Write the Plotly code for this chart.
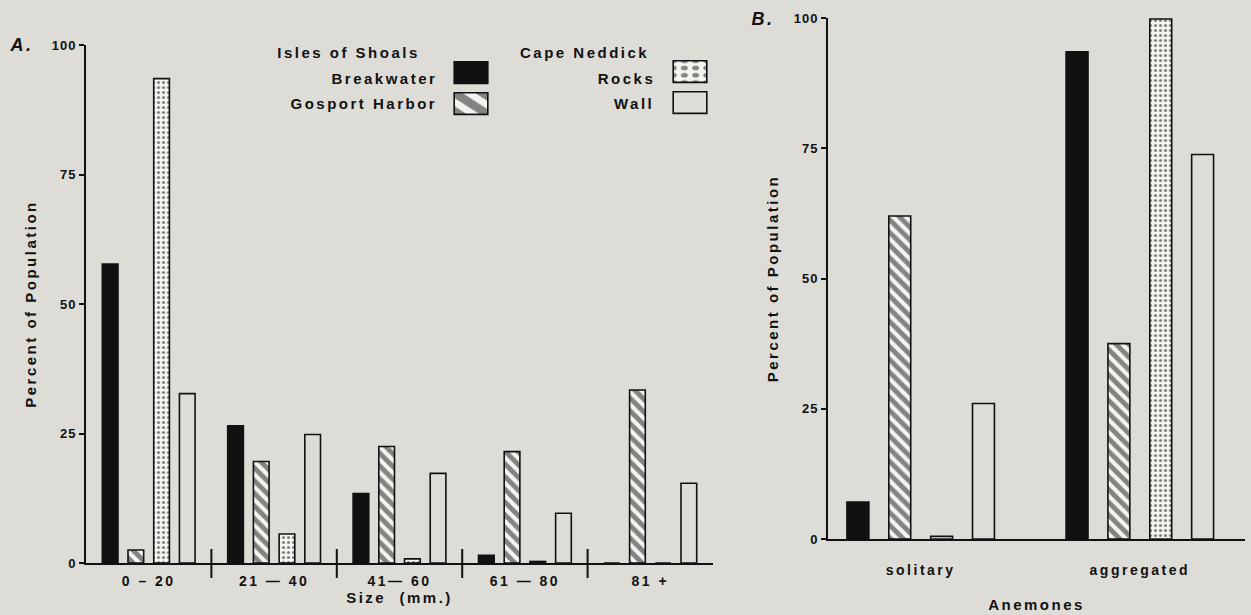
import plotly.graph_objects as go

# ---------------- data ----------------
size_classes = ["0 – 20", "21 — 40", "41— 60", "61 — 80", "81 +"]
breakwater_size = [57.7, 26.5, 13.4, 1.5, 0.0]
gosport_size = [2.5, 19.6, 22.5, 21.5, 33.4]
rocks_size = [93.5, 5.6, 0.8, 0.3, 0.0]
wall_size = [32.7, 24.8, 17.3, 9.6, 15.4]

anemone_types = ["solitary", "aggregated"]
breakwater_anem = [7.1, 93.5]
gosport_anem = [62.0, 37.5]
rocks_anem = [0.5, 99.8]
wall_anem = [26.0, 73.8]

series_names = ["Breakwater", "Gosport Harbor", "Rocks", "Wall"]
y_ticks = [0, 25, 50, 75, 100]

# ---------------- style ----------------
W, H = 1251, 615
BG = "#dddcd6"
FONT = "Liberation Sans, Arial, sans-serif"
INK = "#111111"


def px(x, y):
    return x / W, 1 - y / H


styles = [
    dict(color=INK),
    dict(color="#f4f4f0", pattern=dict(shape="\\", fgcolor=INK, bgcolor="#f4f4f0", size=9, solidity=0.55)),
    dict(color="#f4f4f0", pattern=dict(shape=".", fgcolor=INK, bgcolor="#f4f4f0", size=5, solidity=0.32)),
    dict(color=BG),
]

fig = go.Figure()

# panel A bars
slotA, widthA = 0.205, 0.125
for k, (name, vals) in enumerate(zip(series_names, [breakwater_size, gosport_size, rocks_size, wall_size])):
    fig.add_trace(go.Bar(
        x=size_classes, y=vals, name=name, showlegend=False,
        width=widthA, offset=(k - 1.5) * slotA - widthA / 2,
        marker=dict(line=dict(color=INK, width=1.6), **styles[k]),
        xaxis="x", yaxis="y",
    ))

# panel B bars
slotB, widthB = 0.191, 0.10
for k, (name, vals) in enumerate(zip(series_names, [breakwater_anem, gosport_anem, rocks_anem, wall_anem])):
    fig.add_trace(go.Bar(
        x=anemone_types, y=vals, name=name, showlegend=False,
        width=widthB, offset=(k - 1.5) * slotB - widthB / 2,
        marker=dict(line=dict(color=INK, width=1.6), **styles[k]),
        xaxis="x2", yaxis="y2",
    ))

# legend keys (one small legend per key, labels drawn as annotations on the left)
legend_ids = ["legend", "legend2", "legend3", "legend4"]
key_pos = [(471, 73), (471, 104), (690, 72), (690, 103)]
for k, name in enumerate(series_names):
    fig.add_trace(go.Bar(
        x=[None], y=[None], name="", legend=legend_ids[k], showlegend=True,
        marker=dict(line=dict(color=INK, width=1.6), **styles[k]),
        xaxis="x", yaxis="y",
    ))

legend_layout = {}
for k, lid in enumerate(legend_ids):
    lx, ly = px(key_pos[k][0] - 20, key_pos[k][1])
    legend_layout[lid] = dict(x=lx, y=ly, xanchor="left", yanchor="middle",
                              bgcolor="rgba(0,0,0,0)", borderwidth=0,
                              font=dict(size=14, family=FONT))

axis_font = dict(family=FONT, size=14, color=INK, weight="bold")
ytick_font = dict(family=FONT, size=13, color=INK, weight="bold")
title_font = dict(family=FONT, size=15, color=INK, weight="bold")

xa0, ya1 = px(86, 45)
xa1, ya0 = px(713, 563)
xb0, yb1 = px(828, 18)
xb1, yb0 = px(1245, 539)

common = dict(showline=True, linecolor=INK, linewidth=2, showgrid=False, zeroline=False, automargin=False)

fig.update_layout(
    width=W, height=H,
    margin=dict(l=0, r=0, t=0, b=0, autoexpand=False),
    paper_bgcolor=BG, plot_bgcolor=BG,
    barmode="overlay",
    font=dict(family=FONT, color=INK),
    xaxis=dict(domain=[xa0, xa1], type="category", range=[-0.5, 4.5],
               ticks="", tickfont=axis_font, ticklabelstandoff=4,
               title=dict(text="Size  (mm.)", font=title_font, standoff=2), **common),
    yaxis=dict(domain=[ya0, ya1], range=[0, 100], tickvals=y_ticks,
               ticks="outside", ticklen=5, tickwidth=2, tickcolor=INK, tickfont=ytick_font,
               title=dict(text="Percent of Population", font=title_font, standoff=14), **common),
    xaxis2=dict(domain=[xb0, xb1], type="category", range=[-0.423, 1.48], anchor="y2",
                ticks="", tickfont=axis_font, ticklabelstandoff=17,
                title=dict(text="Anemones", font=title_font, standoff=23), **common),
    yaxis2=dict(domain=[yb0, yb1], range=[0, 100], tickvals=y_ticks, anchor="x2",
                ticks="outside", ticklen=5, tickwidth=2, tickcolor=INK, tickfont=ytick_font,
                title=dict(text="Percent of Population", font=title_font, standoff=14), **common),
    **legend_layout,
)

# category separators on panel A axis
sep_y0 = px(0, 578)[1]
sep_y1 = px(0, 549)[1]
for i in range(len(size_classes) - 1):
    fig.add_shape(type="line", xref="x", yref="paper", x0=i + 0.5, x1=i + 0.5,
                  y0=sep_y0, y1=sep_y1, line=dict(color=INK, width=2))


# annotations: panel letters, legend headings and labels
def ann(text, x, y, size=15, style="normal"):
    ax, ay = px(x, y)
    fig.add_annotation(text=text, x=ax, y=ay, xref="paper", yref="paper",
                       xanchor="center", yanchor="middle", showarrow=False,
                       font=dict(family=FONT, size=size, color=INK, weight="bold", style=style))


ann("A.", 21, 45, size=18, style="italic")
ann("B.", 763, 19, size=18, style="italic")
ann("Isles of Shoals", 348, 52)
ann("Cape Neddick", 585, 52)
ann("Breakwater", 384, 78)
ann("Gosport Harbor", 364, 104)
ann("Rocks", 626, 78)
ann("Wall", 634, 103)

post = """
var s = document.createElement('style');
s.textContent = 'html,body{margin:0!important;padding:0!important;overflow:hidden}' +
  '.main-svg text{letter-spacing:2.5px}' +
  '.ytick text,.y2tick text{letter-spacing:1px}';
document.head.appendChild(s);
document.querySelectorAll('.legendpoints path').forEach(function(p){
  p.setAttribute('transform', (p.getAttribute('transform') || '') + ' scale(2.8,1.8)');
  p.style.vectorEffect = 'non-scaling-stroke';
});
document.querySelectorAll('.infolayer g[class^="legend"]').forEach(function(g){
  g.removeAttribute('clip-path');
  g.querySelectorAll('[clip-path]').forEach(function(e){ e.removeAttribute('clip-path'); });
});
"""

fig.write_html("out.html", post_script=post, config={"displayModeBar": False})
